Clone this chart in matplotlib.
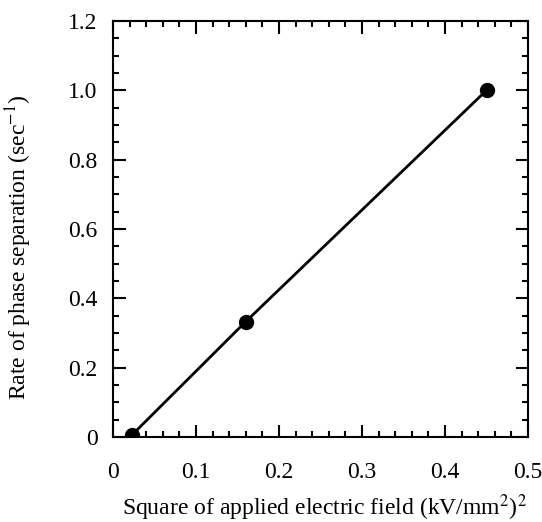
import numpy as np
import matplotlib
matplotlib.use('Agg')
import matplotlib.pyplot as plt
from matplotlib.ticker import MultipleLocator, FuncFormatter

#--data
field_sq = [0.0225, 0.16, 0.45]
rate     = [0.005, 0.333, 1.0]

plt.rcParams['font.family'] = ['Liberation Serif', 'DejaVu Serif']
plt.rcParams['mathtext.fontset'] = 'stix'

fig = plt.figure(figsize=(5.42, 5.22), dpi=100)
ax = fig.add_axes([113/542, 1-437/522, 415/542, 416/522])

ax.plot(field_sq, rate, color='black', lw=2.0, marker='o', ms=10, mfc='black', mec='black')

ax.set_xlim(0, 0.5)
ax.set_ylim(0, 1.2)

ax.xaxis.set_major_locator(MultipleLocator(0.1))
ax.xaxis.set_minor_locator(MultipleLocator(0.02))
ax.yaxis.set_major_locator(MultipleLocator(0.2))
ax.yaxis.set_minor_locator(MultipleLocator(0.05))

fmt = FuncFormatter(lambda v, p: '0' if abs(v) < 1e-9 else '%.1f' % v)
ax.xaxis.set_major_formatter(fmt)
ax.yaxis.set_major_formatter(fmt)

ax.tick_params(axis='both', which='both', direction='in', top=True, right=True, width=1.5)
ax.tick_params(axis='both', which='major', length=9, labelsize=17)
ax.tick_params(axis='both', which='minor', length=4)
ax.tick_params(axis='x', which='major', pad=18)
ax.tick_params(axis='y', which='major', pad=11)

for s in ax.spines.values():
    s.set_linewidth(1.5)

ax.set_xlabel(r'Square of applied electric field (kV/mm$^2$)$^2$', fontsize=17)
ax.set_ylabel(r'Rate of phase separation (sec$^{-1}$)', fontsize=17)
ax.xaxis.set_label_coords(0.51, -0.132)
ax.yaxis.set_label_coords(-0.19, 0.457)

fig.savefig('out.png', dpi=100)
